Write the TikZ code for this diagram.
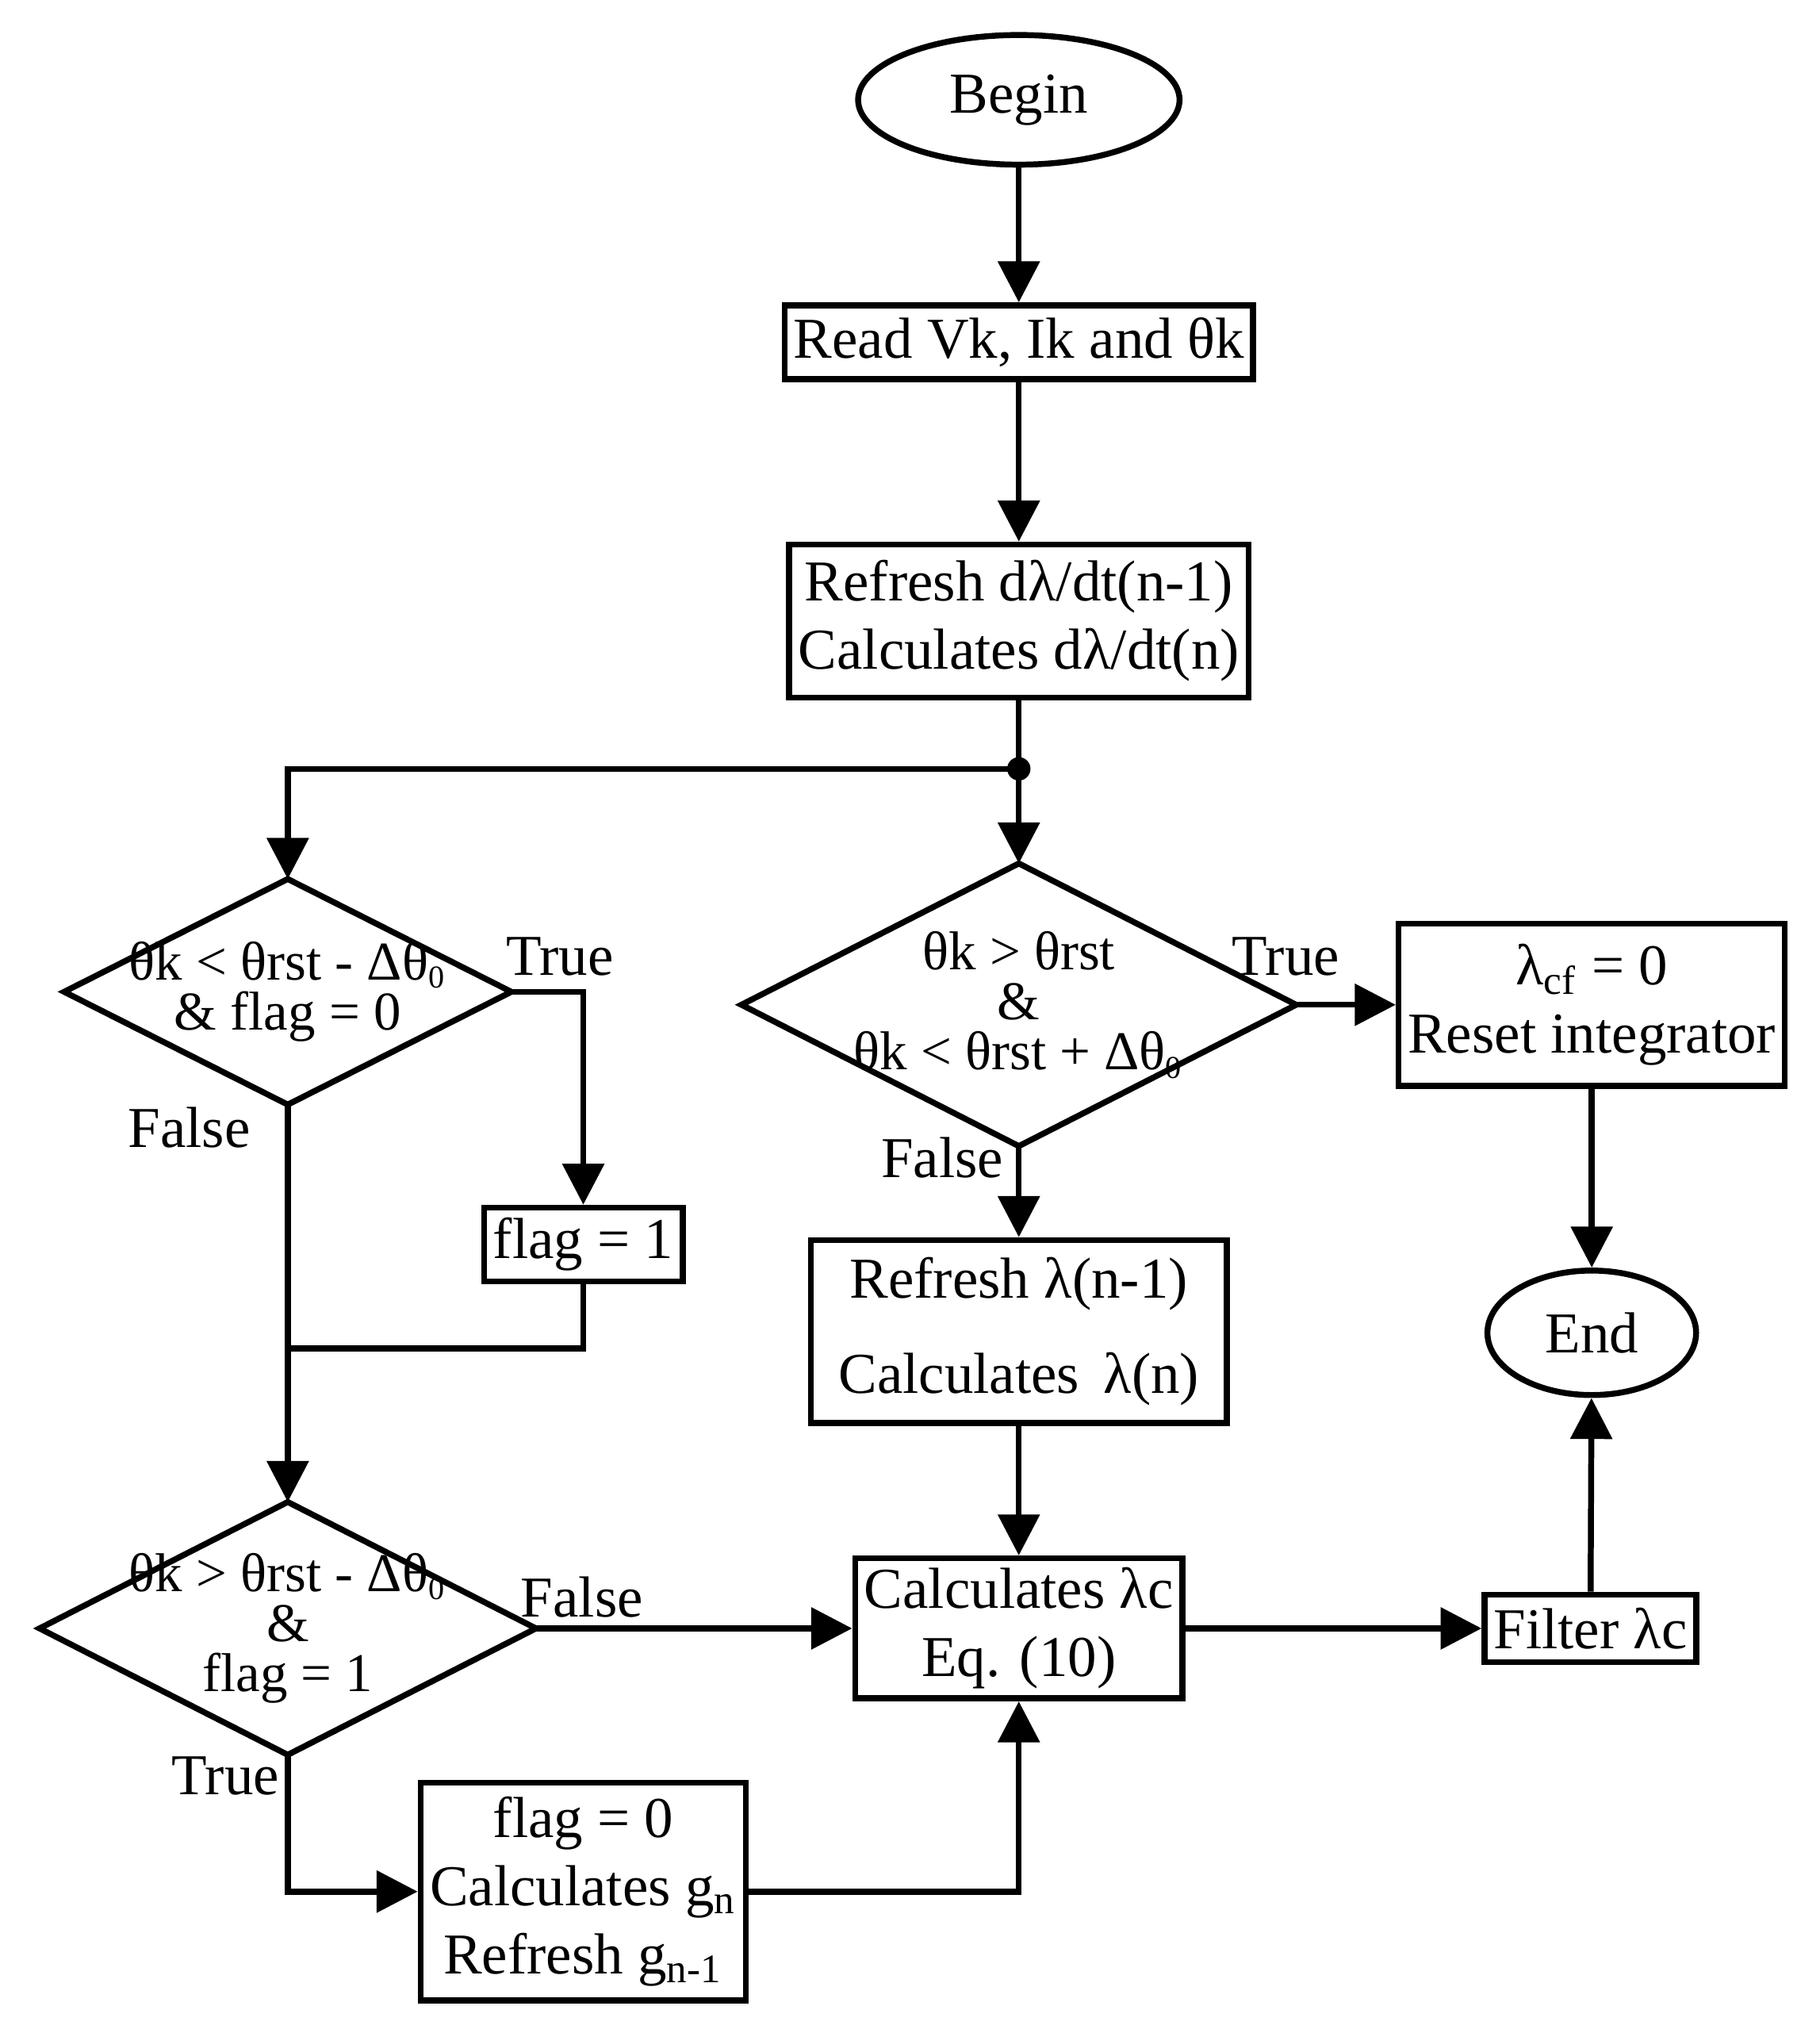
\documentclass[tikz,border=0pt]{standalone}
\usepackage{fontspec}
\setmainfont{Liberation Serif}
\usetikzlibrary{shapes.geometric,arrows.meta}
\tikzset{
  box/.style={rectangle, draw, line width=1.3pt, align=center, inner sep=2pt},
  term/.style={ellipse, draw, line width=1.3pt},
  cond/.style={rectangle, align=center, inner sep=0pt, outer sep=0pt, font=\fontsize{12}{13}\selectfont},
  flow/.style={-{Triangle[length=9pt,width=9pt]}, line width=1.3pt},
  lbl/.style={}
}
\newcommand{\diam}[1]{\draw[line width=1.3pt] (#1.north) -- (#1.east) -- (#1.south) -- (#1.west) -- cycle;}
\newcommand{\zsub}{\textsubscript{\fontsize{7}{7}\selectfont 0}}
\begin{document}
\begin{tikzpicture}[font=\fontsize{12.7}{15}\selectfont]
	\useasboundingbox (0,0) rectangle (14.04,-15.65);

	\node[term, minimum width=2.48cm, minimum height=1.0cm] (begin) at (7.86,-0.77) {Begin};
	\node[box, minimum width=3.58cm, minimum height=0.57cm] (read) at (7.86,-2.64) {Read Vk, Ik and θk};
	\node[box, minimum width=3.49cm, minimum height=1.18cm] (dldt) at (7.86,-4.79) {Refresh dλ/dt(n-1)\\Calculates dλ/dt(n)};
	\coordinate (split) at (7.86,-5.93);
	\node[cond, minimum width=3.45cm, minimum height=1.74cm] (c1) at (2.22,-7.65) {θk < θrst - Δθ\zsub\\[-2pt]\& flag = 0};
	\node[cond, minimum width=4.28cm, minimum height=2.18cm] (c2) at (7.86,-7.75) {θk > θrst\\[-2pt]\&\\[-2pt]θk < θrst + Δθ\zsub};
	\node[box, minimum width=2.89cm, minimum height=1.25cm] (reset) at (12.28,-7.75) {λ\textsubscript{cf} = 0\\Reset integrator};
	\node[box, minimum width=1.48cm, minimum height=0.57cm] (flag1) at (4.50,-9.60) {flag = 1};
	\coordinate (join) at (2.22,-10.40);
	\node[box, minimum width=3.21cm, minimum height=1.41cm] (lam) at (7.86,-10.27) {Refresh λ(n-1)\\[6pt]Calculates \,λ(n)};
	\node[term, minimum width=1.61cm, minimum height=0.96cm] (end) at (12.28,-10.28) {End};
	\node[cond, minimum width=3.83cm, minimum height=1.95cm] (c3) at (2.22,-12.56) {θk > θrst - Δθ\zsub\\[-2pt]\&\\[-2pt]flag = 1};
	\node[box, minimum width=2.42cm, minimum height=1.08cm] (calc) at (7.86,-12.56) {Calculates λc\\Eq. (10)};
	\node[box, minimum width=1.62cm, minimum height=0.52cm] (filter) at (12.27,-12.56) {Filter λc};
	\node[box, minimum width=2.51cm, minimum height=1.68cm] (flag0) at (4.50,-14.59) {flag = 0\\Calculates g\textsubscript{n}\\Refresh g\textsubscript{n-1}};
	\diam{c1}
	\diam{c2}
	\diam{c3}

	\draw[flow] (begin) -- (read);
	\draw[flow] (read) -- (dldt);
	\draw[line width=1.3pt] (dldt) -- (split);
	\fill (split) circle (0.09);
	\draw[flow] (split) -- (c2.north);
	\draw[flow] (split) -| (c1.north);
	\draw[flow] (c1.east) -| (flag1.north);
	\draw[line width=1.3pt] (flag1.south) |- (join);
	\draw[flow] (c1.south) -- (c3.north);
	\draw[flow] (c2.east) -- (reset);
	\draw[flow] (c2.south) -- (lam);
	\draw[flow] (lam) -- (calc);
	\draw[flow] (reset) -- (end);
	\draw[flow] (c3.east) -- (calc);
	\draw[flow] (c3.south) |- (flag0.west);
	\draw[flow] (flag0.east) -| (calc.south);
	\draw[flow] (calc) -- (filter);
	\draw[flow] (filter) -- (end);

	\node[lbl] at (4.32,-7.38) {True};
	\node[lbl] at (1.46,-8.70) {False};
	\node[lbl] at (9.92,-7.38) {True};
	\node[lbl] at (7.27,-8.93) {False};
	\node[lbl] at (4.49,-12.32) {False};
	\node[lbl] at (1.74,-13.70) {True};
\end{tikzpicture}
\end{document}
